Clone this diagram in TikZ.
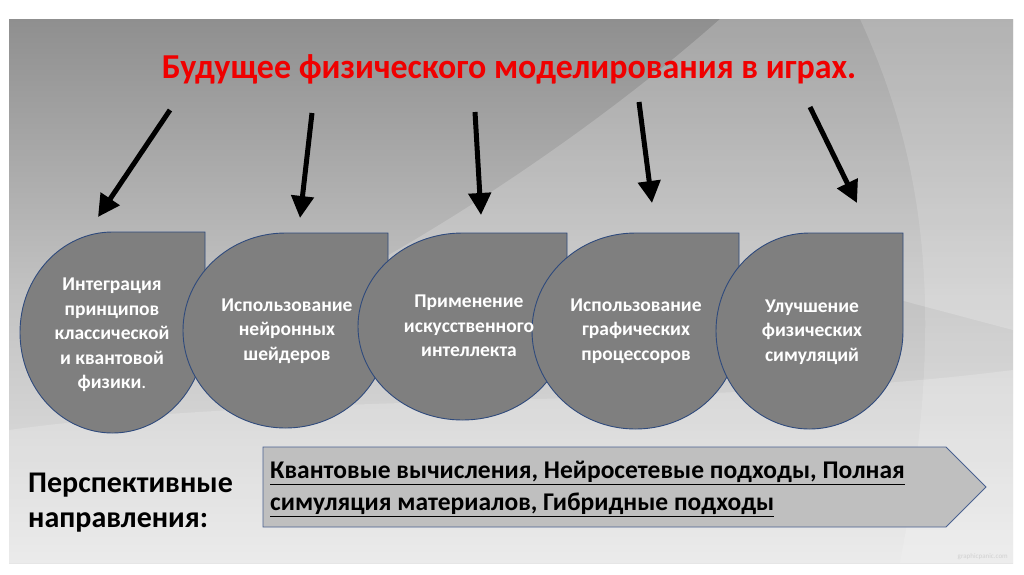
\documentclass[tikz,border=0pt]{standalone}
\usepackage{fontspec}
\setmainfont{Carlito}
\usetikzlibrary{arrows.meta}
\definecolor{bgtop}{HTML}{8F8F8F}
\definecolor{bgmid}{HTML}{C2C2C2}
\definecolor{bgbot}{HTML}{E6E6E6}
\definecolor{dropgray}{HTML}{7F7F7F}
\definecolor{dropedge}{HTML}{2F4A7C}
\definecolor{boxgray}{HTML}{BFBFBF}
\definecolor{boxedge}{HTML}{4A6190}
\definecolor{titlered}{HTML}{F00000}
\newcommand{\thickul}[1]{\leavevmode\vtop{\hbox{#1}\kern1.5pt\hrule height 1.6pt}}
\begin{document}
\begin{tikzpicture}[x=1pt,y=1pt,
  drop/.style={fill=dropgray, draw=dropedge, line width=0.9pt},
  droptext/.style={text=white, font=\fontsize{19.5}{24.5}\selectfont\bfseries, align=center, inner sep=0pt},
  bigarrow/.style={line width=5pt, -{Triangle[width=22pt,length=22pt]}},
  bottomtext/.style={anchor=base west, inner sep=0pt, font=\fontsize{25.5}{30}\selectfont\bfseries, text=black},
  lefttext/.style={anchor=base west, inner sep=0pt, font=\fontsize{30}{36}\selectfont\bfseries, text=black},
]
\useasboundingbox (0,0) rectangle (1024,-574);
\fill[white] (0,0) rectangle (1024,-574);
% background
\shade[top color=bgtop, bottom color=bgbot, middle color=bgmid] (9,-19) rectangle (1013,-563);
\fill[white, opacity=0.2] (720,-19) -- (1013,-19) -- (1013,-330) -- (900,-300) .. controls (700,-260) and (500,-260) .. (380,-260) .. controls (520,-180) and (640,-90) .. cycle;
\fill[white, opacity=0.15] (860,-19) -- (1013,-19) -- (1013,-563) -- (900,-563) .. controls (950,-300) and (920,-150) .. cycle;
\fill[white, opacity=0.2] (9,-430) .. controls (300,-390) and (700,-410) .. (1013,-370) -- (1013,-563) -- (9,-563) -- cycle;
\node[anchor=south east, inner sep=0pt, font=\fontsize{7}{8}\selectfont, text=black!18] (wm) at (1008,-560) {graphicpanic.com};

% title
\node[anchor=base, inner sep=0pt, text=titlered, font=\fontsize{35}{40}\selectfont\bfseries, xscale=0.97] (title) at (509,-78) {Будущее физического моделирования в играх.};

% drops (later ones on top)
\path[drop] (112.5,-232) -- (205,-232) -- (205,-332.5) arc[start angle=0, end angle=-270, x radius=92.5, y radius=100.5] -- cycle;
\path[drop] (285.5,-233) -- (388,-233) -- (388,-330.5) arc[start angle=0, end angle=-270, x radius=102.5, y radius=97.5] -- cycle;
\path[drop] (462.5,-233) -- (567,-233) -- (567,-326.5) arc[start angle=0, end angle=-270, x radius=104.5, y radius=93.5] -- cycle;
\path[drop] (635.5,-233) -- (739,-233) -- (739,-331) arc[start angle=0, end angle=-270, x radius=103.5, y radius=98] -- cycle;
\path[drop] (809.5,-233) -- (903,-233) -- (903,-331) arc[start angle=0, end angle=-270, x radius=93.5, y radius=98] -- cycle;

\node[droptext] (d1) at (112,-335) {Интеграция\\принципов\\классической\\и квантовой\\физики{\mdseries.}};
\node[droptext] (d2) at (287,-331) {Использование\\нейронных\\шейдеров};
\node[droptext] (d3) at (469,-326) {Применение\\искусственного\\интеллекта};
\node[droptext] (d4) at (636,-331) {Использование\\графических\\процессоров};
\node[droptext] (d5) at (812,-332) {Улучшение\\физических\\симуляций};

% arrows
\coordinate (t1) at (170,-110); \coordinate (h1) at (98,-217);
\coordinate (t2) at (312,-113); \coordinate (h2) at (300,-218);
\coordinate (t3) at (475,-112); \coordinate (h3) at (481,-215);
\coordinate (t4) at (639,-102); \coordinate (h4) at (652,-203);
\coordinate (t5) at (810,-107); \coordinate (h5) at (857,-203);
\foreach \i in {1,...,5} \draw[bigarrow] (t\i) -- (h\i);

% bottom
\node[lefttext] (persp) at (28,-492) {Перспективные};
\node[lefttext] (napr) at (28,-527) {направления:};
\path[fill=boxgray, draw=boxedge, line width=0.9pt] (263,-447) -- (946,-447) -- (986,-487) -- (946,-527) -- (263,-527) -- cycle;
\node[bottomtext] (b1) at (270,-478) {\thickul{Квантовые вычисления, Нейросетевые подходы, Полная}};
\node[bottomtext] (b2) at (270,-510) {\thickul{симуляция материалов, Гибридные подходы}};
\end{tikzpicture}
\end{document}
